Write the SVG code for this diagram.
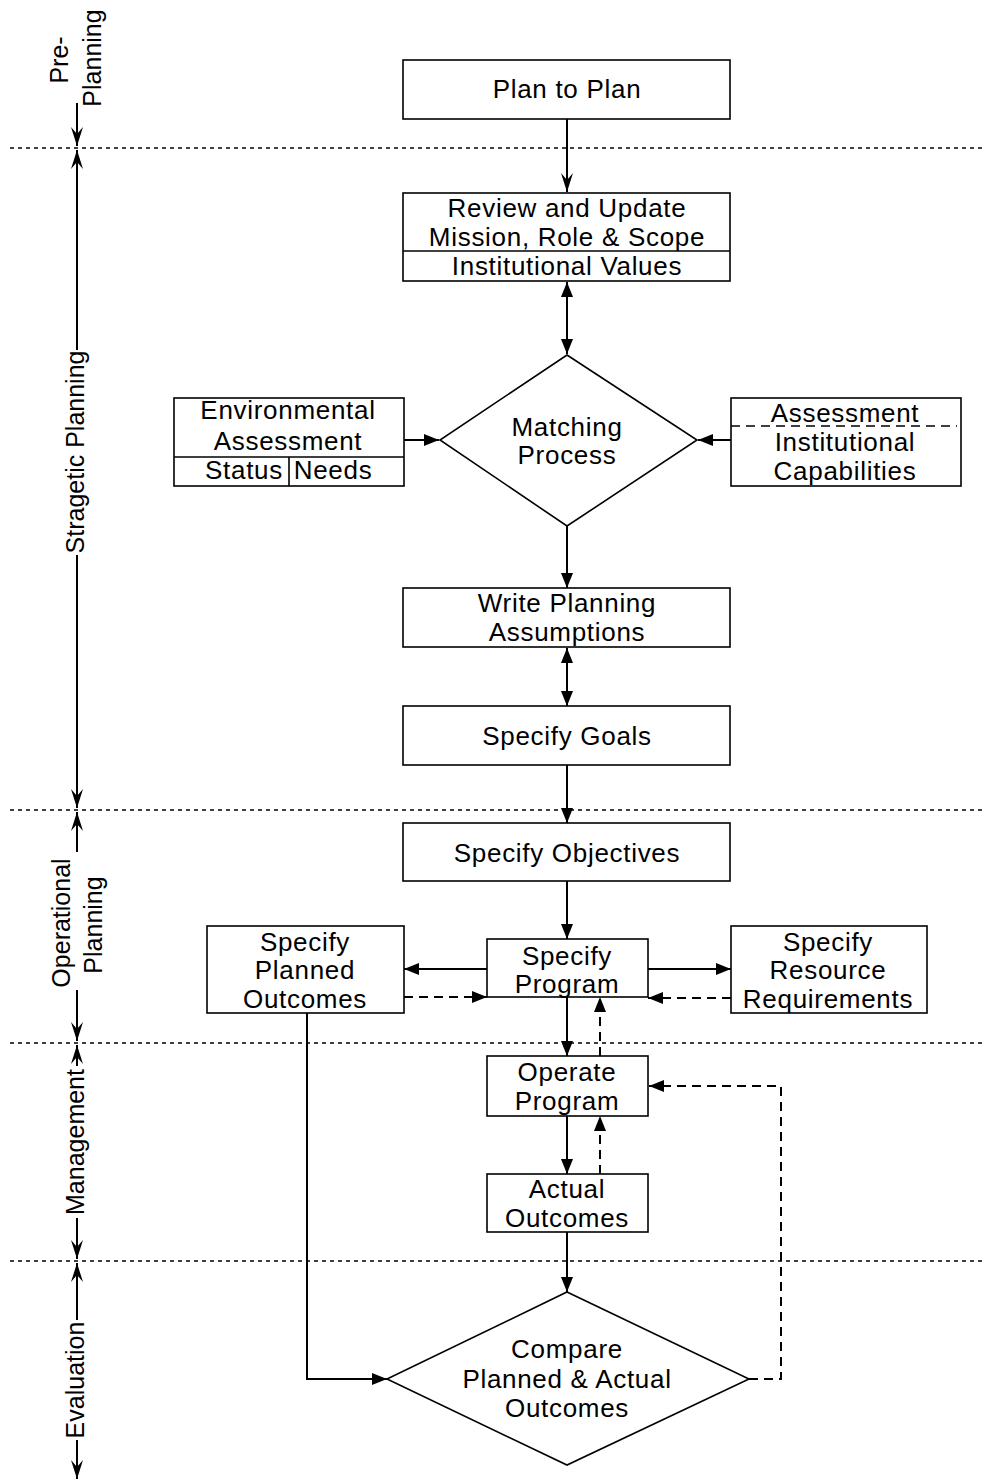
<svg xmlns="http://www.w3.org/2000/svg" width="982" height="1483" viewBox="0 0 982 1483">
<style>
text{font-family:"Liberation Sans",Arial,sans-serif;font-size:26px;fill:#000;text-anchor:middle;letter-spacing:0.7px}
.ax{font-size:25px;letter-spacing:0}
.box{fill:#fff;stroke:#000;stroke-width:1.6}
.div{fill:none;stroke:#000;stroke-width:1.6}
.dot{fill:none;stroke:#000;stroke-width:1.6;stroke-dasharray:4 4}
.c{fill:none;stroke:#000;stroke-width:2}
.d{fill:none;stroke:#000;stroke-width:2;stroke-dasharray:9 6}
.t{marker-end:url(#tri)}
.tt{marker-start:url(#tri);marker-end:url(#tri)}
.n{marker-end:url(#notch)}
</style>
<defs>
<marker id="tri" viewBox="0 0 15 12" refX="15" refY="6" markerWidth="15" markerHeight="12" markerUnits="userSpaceOnUse" orient="auto-start-reverse"><path d="M0,0 L15,6 L0,12 z" fill="#000"/></marker>
<marker id="notch" viewBox="0 0 19 12" refX="19" refY="6" markerWidth="19" markerHeight="12" markerUnits="userSpaceOnUse" orient="auto-start-reverse"><path d="M0,0 L19,6 L0,12 L7,6 z" fill="#000"/></marker>
</defs>
<rect width="982" height="1483" fill="#fff"/>

<g id="dividers">
<line class="dot" x1="10" y1="148" x2="982" y2="148"/>
<line class="dot" x1="10" y1="810" x2="982" y2="810"/>
<line class="dot" x1="10" y1="1043" x2="982" y2="1043"/>
<line class="dot" x1="10" y1="1261" x2="982" y2="1261"/>
</g>

<g id="axis">
<path class="c n" d="M77,103 L77,146"/>
<path class="c n" d="M77,350 L77,150"/>
<path class="c n" d="M77,555 L77,808"/>
<path class="c n" d="M77,852 L77,812"/>
<path class="c n" d="M77,990 L77,1041"/>
<path class="c n" d="M77,1066 L77,1045"/>
<path class="c n" d="M77,1218 L77,1259"/>
<path class="c n" d="M77,1320 L77,1263"/>
<path class="c n" d="M77,1440 L77,1479"/>
<text class="ax" transform="translate(68,60) rotate(-90)">Pre-</text>
<text class="ax" transform="translate(101,58) rotate(-90)">Planning</text>
<text class="ax" transform="translate(84,452) rotate(-90)">Stragetic Planning</text>
<text class="ax" transform="translate(70,923) rotate(-90)">Operational</text>
<text class="ax" transform="translate(102,925) rotate(-90)">Planning</text>
<text class="ax" transform="translate(84,1142) rotate(-90)">Management</text>
<text class="ax" transform="translate(84,1380) rotate(-90)">Evaluation</text>
</g>

<g id="connectors">
<path class="c n" d="M567,119 L567,192"/>
<path class="c tt" d="M567,282 L567,354"/>
<path class="c t" d="M404,440 L439,440"/>
<path class="c t" d="M731,440 L698,440"/>
<path class="c t" d="M567,526 L567,588"/>
<path class="c tt" d="M567,648 L567,706"/>
<path class="c t" d="M567,765 L567,823"/>
<path class="c t" d="M567,881 L567,939"/>
<path class="c t" d="M487,969 L404,969"/>
<path class="d t" d="M404,997 L487,997"/>
<path class="c t" d="M648,969 L731,969"/>
<path class="d t" d="M731,998 L648,998"/>
<path class="c t" d="M567,997 L567,1056"/>
<path class="d t" d="M600,1056 L600,997"/>
<path class="c t" d="M567,1116 L567,1174"/>
<path class="d t" d="M600,1174 L600,1116"/>
<path class="c t" d="M567,1232 L567,1292"/>
<path class="c t" d="M307,1013 L307,1379 L387,1379"/>
<path class="d t" d="M749,1379 L781,1379 L781,1086 L649,1086"/>
</g>

<g id="plan-to-plan">
<rect class="box" x="403" y="60" width="327" height="59"/>
<text x="567" y="98">Plan to Plan</text>
</g>

<g id="review">
<rect class="box" x="403" y="193" width="327" height="88"/>
<line class="div" x1="403" y1="251" x2="730" y2="251"/>
<text x="567" y="217">Review and Update</text>
<text x="567" y="246">Mission, Role &amp; Scope</text>
<text x="567" y="275">Institutional Values</text>
</g>

<g id="matching">
<polygon class="box" points="567,355 697,440 567,526 440,440"/>
<text x="567" y="436">Matching</text>
<text x="567" y="464">Process</text>
</g>

<g id="environmental">
<rect class="box" x="174" y="398" width="230" height="88"/>
<line class="div" x1="174" y1="457" x2="404" y2="457"/>
<line class="div" x1="289" y1="457" x2="289" y2="486"/>
<text x="288" y="419">Environmental</text>
<text x="288" y="450">Assessment</text>
<text x="244" y="479">Status</text>
<text x="333" y="479">Needs</text>
</g>

<g id="capabilities">
<rect class="box" x="731" y="398" width="230" height="88"/>
<line class="d" x1="731" y1="426" x2="957" y2="426" style="stroke-width:1.6"/>
<text x="845" y="422">Assessment</text>
<text x="845" y="451">Institutional</text>
<text x="845" y="480">Capabilities</text>
</g>

<g id="write-assumptions">
<rect class="box" x="403" y="588" width="327" height="59"/>
<text x="567" y="612">Write Planning</text>
<text x="567" y="641">Assumptions</text>
</g>

<g id="goals">
<rect class="box" x="403" y="706" width="327" height="59"/>
<text x="567" y="745">Specify Goals</text>
</g>

<g id="objectives">
<rect class="box" x="403" y="823" width="327" height="58"/>
<text x="567" y="862">Specify Objectives</text>
</g>

<g id="program">
<rect class="box" x="487" y="939" width="161" height="58"/>
<text x="567" y="965">Specify</text>
<text x="567" y="993">Program</text>
</g>

<g id="planned-outcomes">
<rect class="box" x="207" y="926" width="197" height="87"/>
<text x="305" y="951">Specify</text>
<text x="305" y="979">Planned</text>
<text x="305" y="1008">Outcomes</text>
</g>

<g id="resources">
<rect class="box" x="731" y="926" width="196" height="87"/>
<text x="828" y="951">Specify</text>
<text x="828" y="979">Resource</text>
<text x="828" y="1008">Requirements</text>
</g>

<g id="operate">
<rect class="box" x="487" y="1056" width="161" height="60"/>
<text x="567" y="1081">Operate</text>
<text x="567" y="1110">Program</text>
</g>

<g id="actual">
<rect class="box" x="487" y="1174" width="161" height="58"/>
<text x="567" y="1198">Actual</text>
<text x="567" y="1227">Outcomes</text>
</g>

<g id="compare">
<polygon class="box" points="567,1292 749,1379 567,1465 387,1379"/>
<text x="567" y="1358">Compare</text>
<text x="567" y="1388">Planned &amp; Actual</text>
<text x="567" y="1417">Outcomes</text>
</g>
</svg>
